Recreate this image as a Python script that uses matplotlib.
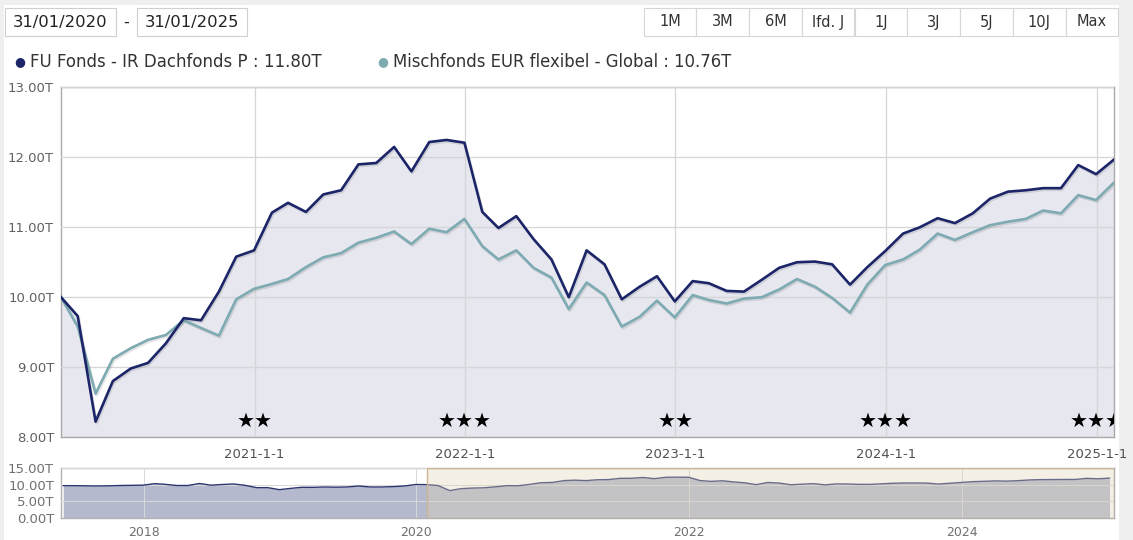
import numpy as np
import pandas as pd
import matplotlib
matplotlib.use("Agg")
import matplotlib.pyplot as plt
import matplotlib.dates as mdates
import matplotlib.patheffects as pe
import matplotlib.transforms as mtrans
from matplotlib.patches import Rectangle

# ---- data ----
dates = pd.date_range("2020-01-31", "2025-01-31", freq="ME")

fu_fonds = [10.00, 9.73, 8.22, 8.80, 8.98, 9.06, 9.34, 9.70, 9.67, 10.08,
            10.58, 10.67, 11.21, 11.35, 11.22, 11.47, 11.53, 11.90, 11.92, 12.15,
            11.80, 12.22, 12.25, 12.21, 11.22, 10.99, 11.16, 10.83, 10.54, 10.00,
            10.67, 10.47, 9.97, 10.15, 10.30, 9.94, 10.23, 10.20, 10.09, 10.08,
            10.25, 10.42, 10.50, 10.51, 10.47, 10.18, 10.43, 10.66, 10.91, 11.00,
            11.13, 11.06, 11.20, 11.41, 11.51, 11.53, 11.56, 11.56, 11.89, 11.76,
            11.97]

mischfonds = [10.00, 9.58, 8.62, 9.12, 9.27, 9.39, 9.46, 9.67, 9.56, 9.45,
              9.97, 10.12, 10.19, 10.26, 10.43, 10.57, 10.63, 10.78, 10.85, 10.94,
              10.76, 10.98, 10.93, 11.12, 10.73, 10.54, 10.67, 10.42, 10.28, 9.83,
              10.21, 10.03, 9.58, 9.72, 9.95, 9.71, 10.03, 9.96, 9.91, 9.98,
              10.00, 10.11, 10.26, 10.15, 9.99, 9.78, 10.18, 10.46, 10.54, 10.68,
              10.91, 10.82, 10.93, 11.03, 11.08, 11.12, 11.24, 11.20, 11.46, 11.39,
              11.64]

# navigator history before the selected range
hist_dates = pd.date_range("2017-05-31", "2019-12-31", freq="ME")
hist_values = [9.70, 9.70, 9.65, 9.60, 9.65, 9.75, 9.80, 9.85, 10.30, 10.10,
               9.75, 9.75, 10.35, 9.85, 10.05, 10.20, 9.80, 9.10, 9.10, 8.50,
               8.90, 9.20, 9.20, 9.30, 9.25, 9.30, 9.60, 9.30, 9.30, 9.40,
               9.60, 10.05]

legend_names = ["FU Fonds - IR Dachfonds P : 11.80T",
                "Mischfonds EUR flexibel - Global : 10.76T"]

y_ticks = [8, 9, 10, 11, 12, 13]
y_labels = ["8.00T", "9.00T", "10.00T", "11.00T", "12.00T", "13.00T"]
x_ticks = ["2021-01-01", "2022-01-01", "2023-01-01", "2024-01-01", "2025-01-01"]
x_labels = ["2021-1-1", "2022-1-1", "2023-1-1", "2024-1-1", "2025-1-1"]
star_counts = [2, 3, 2, 3, 3]

nav_y_ticks = [0, 5, 10, 15]
nav_y_labels = ["0.00T", "5.00T", "10.00T", "15.00T"]
nav_x_ticks = ["2018-01-01", "2020-01-01", "2022-01-01", "2024-01-01"]
nav_x_labels = ["2018", "2020", "2022", "2024"]

buttons = ["1M", "3M", "6M", "lfd. J", "1J", "3J", "5J", "10J", "Max"]

NAVY = "#1c2568"
TEAL = "#7eaab2"

W, H = 1133, 540
fig = plt.figure(figsize=(W / 100, H / 100), dpi=100, facecolor="#efefef")

def fx(px):
    return px / W

def fy(py):
    return 1 - py / H

def box(x0, y0, x1, y1, face="white", edge="#cfcfcf", z=0):
    fig.patches.append(Rectangle((fx(x0), fy(y1)), fx(x1) - fx(x0), (y1 - y0) / H,
                                 transform=fig.transFigure, facecolor=face,
                                 edgecolor=edge, lw=0.8, zorder=z))

# white panel
box(4, 5, 1119, 541, edge="none", z=-10)

# ---- header ----
box(5, 8, 116, 36)
fig.text(fx(60.5), fy(22), "31/01/2020", ha="center", va="center", fontsize=11.8, color="#222222")
fig.text(fx(126), fy(22), "-", ha="center", va="center", fontsize=11.8, color="#222222")
box(137, 8, 247, 36)
fig.text(fx(192), fy(22), "31/01/2025", ha="center", va="center", fontsize=11.8, color="#222222")

bx = 643.5
bw = 52.75
for i, b in enumerate(buttons):
    box(bx + i * bw, 8, bx + (i + 1) * bw, 36, edge="#d6d6d6")
    fig.text(fx(bx + (i + 0.5) * bw), fy(22), b, ha="center", va="center", fontsize=10.5, color="#333333")

# legend
fig.text(fx(20), fy(62), "●", ha="center", va="center", fontsize=9, color=NAVY)
fig.text(fx(30), fy(62), legend_names[0], ha="left", va="center", fontsize=12, color="#333333")
fig.text(fx(383), fy(62), "●", ha="center", va="center", fontsize=9, color=TEAL)
fig.text(fx(393), fy(62), legend_names[1], ha="left", va="center", fontsize=11.9, color="#333333")

# ---- main chart ----
ax = fig.add_axes([fx(61), fy(437), fx(1114) - fx(61), (437 - 87.5) / H])
ax.fill_between(dates, fu_fonds, 8, color="#e6e7ef", lw=0, zorder=1)
shadow = [pe.SimpleLineShadow(offset=(0.8, -1.2), alpha=0.1), pe.Normal()]
ax.plot(dates, mischfonds, color=TEAL, lw=1.9, path_effects=shadow, zorder=3)
ax.plot(dates, fu_fonds, color=NAVY, lw=1.9, path_effects=shadow, zorder=4)

ax.set_xlim(dates[0], dates[-1])
ax.set_ylim(8, 13)
ax.set_yticks(y_ticks)
ax.set_yticklabels(y_labels)
ax.set_xticks(pd.to_datetime(x_ticks))
ax.set_xticklabels(x_labels)
ax.tick_params(axis="both", length=0, labelsize=9.5)
ax.tick_params(axis="y", pad=5, labelcolor="#606060")
ax.tick_params(axis="x", pad=8, labelcolor="#505050")
ax.set_axisbelow(False)
ax.grid(True, color="#d6d6d6", lw=0.9)
for s in ax.spines.values():
    s.set_color("#a9a9a9")
    s.set_linewidth(1.0)

trans = mtrans.blended_transform_factory(ax.transData, ax.transAxes)
for d, n in zip(pd.to_datetime(x_ticks), star_counts):
    ax.text(mdates.date2num(d), 0.045, "★" * n, transform=trans, ha="center", va="center",
            fontsize=14.5, color="black", clip_on=True, zorder=6)

# ---- navigator ----
nav = fig.add_axes([fx(61), fy(518), fx(1114) - fx(61), 50 / H])
nav_dates = hist_dates.append(dates)
nav_values = hist_values + fu_fonds
nav.fill_between(nav_dates, nav_values, 0, color="#b4b9cd", lw=0, zorder=1)
nav.plot(nav_dates, nav_values, color="#2c3570", lw=1.0, zorder=3)
nav.set_xlim(pd.Timestamp("2017-05-25"), pd.Timestamp("2025-02-12"))
nav.set_ylim(0, 15)
nav.set_yticks(nav_y_ticks)
nav.set_yticklabels(nav_y_labels)
nav.set_xticks(pd.to_datetime(nav_x_ticks))
nav.set_xticklabels(nav_x_labels)
nav.tick_params(axis="both", length=0, labelsize=9.5, labelcolor="#707070")
nav.tick_params(axis="y", pad=5)
nav.tick_params(axis="x", pad=6, labelsize=9)
nav.set_axisbelow(False)
nav.grid(True, color="#d8d8d8", lw=0.7)
for s in nav.spines.values():
    s.set_color("#b0b0b0")
    s.set_linewidth(1.0)

sel_start = mdates.date2num(dates[0])
sel_end = mdates.date2num(pd.Timestamp("2025-02-12"))
nav.add_patch(Rectangle((sel_start, 0), sel_end - sel_start, 15, facecolor=(0.88, 0.83, 0.72, 0.35),
                        edgecolor="#cdb48f", lw=1.0, zorder=5))

fig.savefig("out.png", dpi=100, facecolor=fig.get_facecolor())
